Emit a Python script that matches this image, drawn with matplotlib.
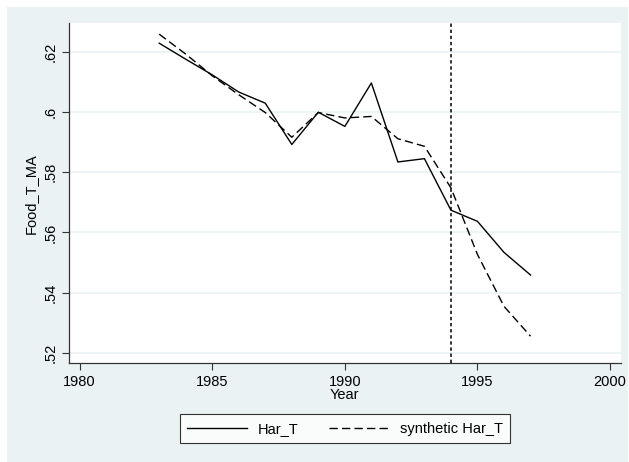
import matplotlib
matplotlib.use("Agg")
import matplotlib.pyplot as plt
from matplotlib.patches import Rectangle

plt.rcParams['font.family'] = ['Liberation Sans', 'DejaVu Sans']

# ------------------ DATA ------------------
years = [1983, 1984, 1985, 1986, 1987, 1988, 1989, 1990, 1991, 1992,
         1993, 1994, 1995, 1996, 1997]
har_t = [0.6228, 0.6175, 0.6123, 0.6066, 0.6029, 0.5892, 0.5999, 0.5952,
         0.6096, 0.5834, 0.5845, 0.5674, 0.5637, 0.5534, 0.5459]
synth_har_t = [0.6258, 0.6192, 0.6120, 0.6057, 0.5998, 0.5916, 0.5998, 0.5980,
               0.5985, 0.5911, 0.5886, 0.5748, 0.5527, 0.5355, 0.5256]
treat_year = 1994
x_ticks = [1980, 1985, 1990, 1995, 2000]
y_ticks = [0.52, 0.54, 0.56, 0.58, 0.60, 0.62]
y_tick_labels = ['.52', '.54', '.56', '.58', '.6', '.62']

bg = '#EAF2F3'

# ------------------ PLOT ------------------
fig = plt.figure(figsize=(6.29, 4.62), dpi=100)
fig.patch.set_facecolor('white')
# Stata style graph region (slightly cropped at top/left)
fig.patches.append(Rectangle((7 / 629, 0), 621 / 629, 455 / 462,
                             transform=fig.transFigure, facecolor=bg,
                             edgecolor='none', zorder=-10))

ax = fig.add_axes([0.1097, 0.2136, 0.8771, 0.7366])
ax.set_facecolor('white')

ax.plot(years, har_t, color='black', lw=1.0, label='Har_T')
ax.plot(years, synth_har_t, color='black', lw=1.0, dashes=(6, 3),
        label='synthetic Har_T')
ax.axvline(treat_year, color='black', lw=1.1, dashes=(2.2, 1.8))

ax.set_xlim(1979.6, 2000.4)
ax.set_ylim(0.5166, 0.6295)
ax.set_xticks(x_ticks)
ax.set_yticks(y_ticks)
ax.set_yticklabels(y_tick_labels, rotation=90, va='center')
ax.tick_params(axis='both', labelsize=10.5, length=5, width=0.8,
               color='#333333', direction='out')
ax.grid(axis='y', color=bg, lw=1.2)
ax.set_axisbelow(True)

for s in ['top', 'right']:
    ax.spines[s].set_visible(False)
for s in ['left', 'bottom']:
    ax.spines[s].set_color('#333333')
    ax.spines[s].set_linewidth(0.9)

ax.set_xlabel('Year', fontsize=10.5, labelpad=-1)
ax.set_ylabel('Food_T_MA', fontsize=10.5, labelpad=4)

leg = fig.legend(loc='center', bbox_to_anchor=(0.5485, 0.0719), ncol=2,
                 fontsize=10.5, handlelength=4.1, handletextpad=0.75,
                 columnspacing=2.1, frameon=True, fancybox=False,
                 borderpad=0.5)
leg.get_frame().set_edgecolor('black')
leg.get_frame().set_linewidth(0.8)
leg.get_frame().set_facecolor('white')

plt.savefig('out.png', dpi=100, facecolor=fig.get_facecolor())
